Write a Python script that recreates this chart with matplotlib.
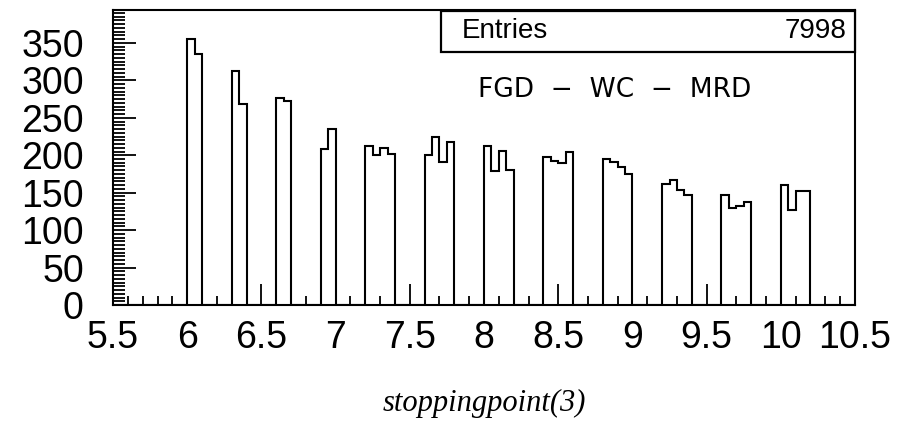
import numpy as np
import matplotlib
matplotlib.use("Agg")
import matplotlib.pyplot as plt
from matplotlib.patches import Rectangle
from matplotlib.ticker import MultipleLocator

# histogram: 100 bins of 0.05 from 5.5 to 10.5, only non-empty bins listed
x_min, x_max, bin_w = 5.5, 10.5, 0.05
bin_lows = [6.00, 6.05,
            6.30, 6.35,
            6.60, 6.65,
            6.90, 6.95,
            7.20, 7.25, 7.30, 7.35,
            7.60, 7.65, 7.70, 7.75,
            8.00, 8.05, 8.10, 8.15,
            8.40, 8.45, 8.50, 8.55,
            8.80, 8.85, 8.90, 8.95,
            9.20, 9.25, 9.30, 9.35,
            9.60, 9.65, 9.70, 9.75,
            10.00, 10.05, 10.10, 10.15]
counts = [355, 335,
          312, 269,
          276, 273,
          208, 235,
          213, 201, 210, 202,
          201, 224, 191, 218,
          213, 179, 206, 180,
          198, 192, 189, 204,
          195, 191, 184, 175,
          161, 167, 153, 147,
          147, 130, 132, 138,
          160, 127, 152, 152]
entries = 7998
x_ticks = [5.5, 6, 6.5, 7, 7.5, 8, 8.5, 9, 9.5, 10, 10.5]
y_ticks = [0, 50, 100, 150, 200, 250, 300, 350]

fig = plt.figure(figsize=(9, 4.23), dpi=100)
ax = fig.add_axes([113/900, 1 - 305/423, (855 - 113)/900, (305 - 10)/423])

edges = np.linspace(x_min, x_max, 101)
centers = np.array(bin_lows) + bin_w / 2
ax.hist(centers, bins=edges, weights=counts, histtype='step', color='black', linewidth=1.5)

ax.set_xlim(x_min, x_max)
ax.set_ylim(0, 394)

for s in ax.spines.values():
    s.set_linewidth(1.5)

ax.set_xticks(x_ticks)
ax.set_xticklabels(['%g' % t for t in x_ticks])
ax.set_yticks(y_ticks)
ax.xaxis.set_minor_locator(MultipleLocator(0.1))
ax.yaxis.set_minor_locator(MultipleLocator(5))
ax.tick_params(axis='x', which='major', direction='in', length=15, width=1.3,
               labelsize=27, pad=11, top=False)
ax.tick_params(axis='x', which='minor', direction='in', length=6.5, width=1.3, top=False)
ax.tick_params(axis='y', which='major', direction='in', length=16.5, width=1.3,
               labelsize=27, pad=21, right=False)
ax.tick_params(axis='y', which='minor', direction='in', length=8.5, width=1.3, right=False)
for lab in ax.get_xticklabels() + ax.get_yticklabels():
    lab.set_fontfamily('Liberation Sans')

fig.text(484/900, 1 - 403/423, 'stoppingpoint(3)', family='Liberation Serif',
         style='italic', fontsize=22, ha='center', va='center')

# stats box
fig.patches.append(Rectangle((441/900, 1 - 52/423), (855 - 441)/900, 41/423,
                             transform=fig.transFigure, facecolor='white',
                             edgecolor='black', linewidth=1.6, zorder=5))
fig.text(462/900, 1 - 31/423, 'Entries', family='Liberation Sans', fontsize=20,
         ha='left', va='center', zorder=6)
fig.text(846/900, 1 - 31/423, str(entries), family='Liberation Sans', fontsize=20,
         ha='right', va='center', zorder=6)

ax.text(615/900, 1 - 90/423, 'FGD  \u2212  WC  \u2212  MRD', transform=fig.transFigure,
        family='DejaVu Sans', fontsize=19, ha='center', va='center')

fig.savefig('out.png', dpi=100)
